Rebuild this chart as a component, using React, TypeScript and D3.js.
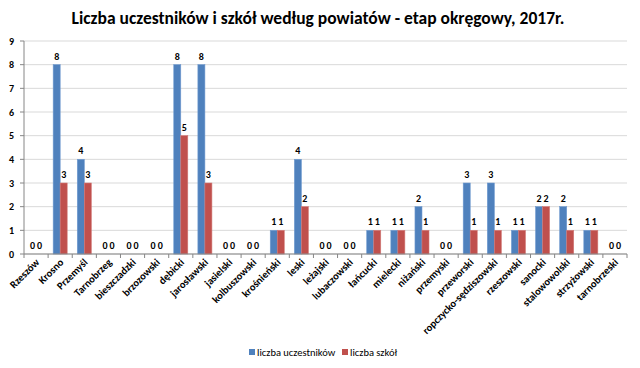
import React from 'react'
import * as d3 from 'd3'

const categories = ['Rzeszów', 'Krosno', 'Przemyśl', 'Tarnobrzeg', 'bieszczadzki', 'brzozowski', 'dębicki', 'jarosławski', 'jasielski', 'kolbuszowski', 'krośnieński', 'leski', 'leżajski', 'lubaczowski', 'łańcucki', 'mielecki', 'niżański', 'przemyski', 'przeworski', 'ropczycko-sędziszowski', 'rzeszowski', 'sanocki', 'stalowowolski', 'strzyżowski', 'tarnobrzeski']
const uczestnicy = [0, 8, 4, 0, 0, 0, 8, 8, 0, 0, 1, 4, 0, 0, 1, 1, 2, 0, 3, 3, 1, 2, 2, 1, 0]
const szkoly = [0, 3, 3, 0, 0, 0, 5, 3, 0, 0, 1, 2, 0, 0, 1, 1, 1, 0, 1, 1, 1, 2, 1, 1, 0]
const seriesNames = ['liczba uczestników', 'liczba szkół']
const yTicks = [0, 1, 2, 3, 4, 5, 6, 7, 8, 9]

const colors = ['#4F81BD', '#C0504D']
const font = 'Carlito, Calibri, Lato, "Open Sans", sans-serif'

const App = () => {
  const w = 640
  const h = 368
  const left = 24
  const right = 627
  const top = 41
  const bottom = 254

  const x = d3.scaleBand<string>().domain(categories).range([left, right]).padding(0)
  const sub = d3.scaleBand<number>().domain([0, 1]).range([0, x.bandwidth()]).paddingInner(0).paddingOuter(0.72)
  const y = d3.scaleLinear().domain([0, 9]).range([bottom, top])

  const series = [uczestnicy, szkoly]

  return (
    <svg width={w} height={h} style={{ position: 'absolute', left: 0, top: 0, background: 'white' }} fontFamily={font}>
      <text x={318} y={24} textAnchor="middle" fontSize={17.5} fontWeight="bold" fill="#000">
        Liczba uczestników i szkół według powiatów - etap okręgowy, 2017r.
      </text>

      {/* grid */}
      {yTicks.map(t => (
        <line key={'g' + t} x1={left} x2={right} y1={y(t)} y2={y(t)} stroke="#D9D9D9" strokeWidth={1} />
      ))}
      {yTicks.map(t => (
        <g key={'yt' + t}>
          <line x1={left - 4} x2={left} y1={y(t)} y2={y(t)} stroke="#868686" />
          <text x={left - 10} y={y(t) + 3.5} textAnchor="end" fontSize={10} fontWeight="bold" fill="#000">{t}</text>
        </g>
      ))}

      {/* bars */}
      {series.map((vals, si) => vals.map((v, i) => {
        const bx = (x(categories[i]) ?? 0) + (sub(si) ?? 0)
        const bw = sub.bandwidth()
        return (
          <g key={si + '-' + i}>
            {v > 0 && <rect x={bx} y={y(v)} width={bw} height={bottom - y(v)} fill={colors[si]} stroke={si === 0 ? '#6F9AD0' : '#D27A77'} strokeWidth={0.6} />}
            <text x={bx + bw / 2} y={y(v) - 5} textAnchor="middle" fontSize={10} fontWeight="bold" fill="#000">{v}</text>
          </g>
        )
      }))}

      {/* axes */}
      <line x1={left} x2={left} y1={top} y2={bottom} stroke="#868686" />
      <line x1={left} x2={right} y1={bottom} y2={bottom} stroke="#868686" />
      {categories.map((c, i) => (
        <line key={'xt' + c} x1={left + i * x.step()} x2={left + i * x.step()} y1={bottom} y2={bottom + 4} stroke="#868686" />
      ))}
      <line x1={right} x2={right} y1={bottom} y2={bottom + 4} stroke="#868686" />
      {categories.map(c => {
        const cx = (x(c) ?? 0) + x.bandwidth() / 2 + 4
        const cy = bottom + 9
        return (
          <text key={'xl' + c} x={cx} y={cy} transform={`rotate(-45 ${cx} ${cy})`} textAnchor="end" fontSize={10.5} fontWeight={600} fill="#000">{c}</text>
        )
      })}

      {/* legend */}
      {seriesNames.map((s, i) => {
        const lx = [249, 342][i]
        return (
          <g key={'lg' + s}>
            <rect x={lx} y={349} width={6} height={6} fill={colors[i]} />
            <text x={lx + 8} y={356} fontSize={10.5} fill="#000">{s}</text>
          </g>
        )
      })}
    </svg>
  )
}

export default App
